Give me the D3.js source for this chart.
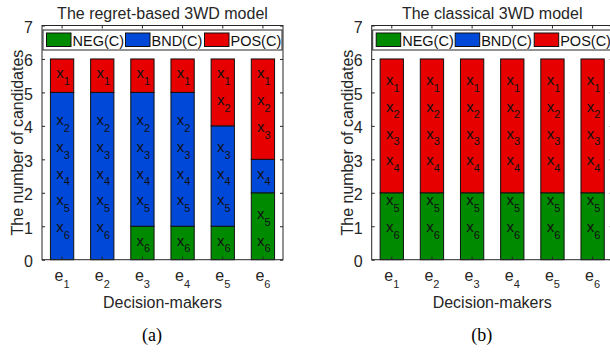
<!DOCTYPE html>
<html><head><meta charset="utf-8">
<script src="https://cdn.jsdelivr.net/npm/d3@7"></script>
<style>body{margin:0;background:#fff} svg{display:block} text{font-family:"Liberation Sans",Arial,Helvetica,sans-serif;fill:#262626}</style>
</head><body><svg id="c" width="610" height="354"></svg>
<script>
// ---------- data ----------
const decisionMakers = ["1","2","3","4","5","6"];   // e_1 ... e_6
const candidates = ["1","2","3","4","5","6"];       // x_1 ... x_6
const seriesKeys = ["NEG","BND","POS"];
const seriesNames = ["NEG(C)","BND(C)","POS(C)"];
const seriesColors = ["#008a00","#0049d8","#e60000"];
const yTicks = [0,1,2,3,4,5,6,7];
const titles = ["The regret-based 3WD model","The classical 3WD model"];
const panelTags = ["(a)","(b)"];
const yLabel = "The number of candidates";
const xLabel = "Decision-makers";

// (a) regret-based model
const negA = [0,0,1,1,1,2];
const bndA = [5,5,4,4,3,1];
const posA = [1,1,1,1,2,3];
// y position (data units) of labels x_1..x_6 for each decision-maker
const labelYA = [
  [5.5,4.1,3.3,2.5,1.7,0.9],
  [5.5,4.1,3.3,2.5,1.7,0.9],
  [5.5,4.1,3.3,2.5,1.7,0.5],
  [5.5,4.1,3.3,2.5,1.7,0.5],
  [5.5,4.7,3.3,2.5,1.7,0.5],
  [5.5,4.7,3.9,2.5,1.3,0.5]
];
// (b) classical model
const negB = [2,2,2,2,2,2];
const bndB = [0,0,0,0,0,0];
const posB = [4,4,4,4,4,4];
const labelYB = [
  [5.3,4.5,3.7,2.9,1.7,0.9],
  [5.3,4.5,3.7,2.9,1.7,0.9],
  [5.3,4.5,3.7,2.9,1.7,0.9],
  [5.3,4.5,3.7,2.9,1.7,0.9],
  [5.3,4.5,3.7,2.9,1.7,0.9],
  [5.3,4.5,3.7,2.9,1.7,0.9]
];

// ---------- drawing ----------
const svg = d3.select("#c");

function panel(opt){
  const {x0,x1,y0,y1,neg,bnd,pos,labelY,title,tag,tagX} = opt;
  const g = svg.append("g");
  const rows = decisionMakers.map((d,i)=>({dm:d, NEG:neg[i], BND:bnd[i], POS:pos[i]}));
  const x = d3.scaleBand().domain(decisionMakers).range([x0,x1]).paddingInner(0.42).paddingOuter(0.21);
  const y = d3.scaleLinear().domain([0,7]).range([y0,y1]);
  const stack = d3.stack().keys(seriesKeys)(rows);

  // bars
  stack.forEach((s,si)=>{
    g.append("g").selectAll("rect").data(s).join("rect")
      .attr("x", d=>x(d.data.dm)).attr("width", x.bandwidth())
      .attr("y", d=>y(d[1])).attr("height", d=>y(d[0])-y(d[1]))
      .attr("fill", seriesColors[si]).attr("stroke","#111").attr("stroke-width",1)
      .style("display", d=>d[1]-d[0]>0?null:"none");
  });

  // candidate labels
  decisionMakers.forEach((dm,i)=>{
    candidates.forEach((c,j)=>{
      const t = g.append("text")
        .attr("x", x(dm)+x.bandwidth()/2+1)
        .attr("y", y(labelY[i][j])+2.6)
        .attr("text-anchor","middle")
        .style("font-size","15px").style("fill","#111");
      t.append("tspan").text("x");
      t.append("tspan").attr("dy",6.7).style("font-size","11px").text(c);
    });
  });

  // axes box
  const ax = g.append("g").attr("stroke","#262626").attr("fill","none").attr("stroke-width",1);
  ax.append("rect").attr("x",x0).attr("y",y1).attr("width",x1-x0).attr("height",y0-y1);

  const yAxisL = d3.axisLeft(y).tickValues(yTicks).tickSize(-3).tickPadding(9).tickFormat(d3.format("d"));
  const gyl = g.append("g").attr("transform",`translate(${x0},0)`).call(yAxisL);
  gyl.select(".domain").remove();
  gyl.selectAll("line").attr("stroke","#262626");
  gyl.selectAll("text").style("font-size","16px").attr("dy",null).attr("y",7).style("fill","#262626");
  const gyr = g.append("g").attr("transform",`translate(${x1},0)`).call(d3.axisRight(y).tickValues(yTicks).tickSize(-3).tickFormat(""));
  gyr.select(".domain").remove();
  gyr.selectAll("line").attr("stroke","#262626");

  const gxb = g.append("g").attr("transform",`translate(0,${y0})`).call(d3.axisBottom(x).tickSize(-3).tickFormat(""));
  gxb.select(".domain").remove();
  gxb.selectAll("line").attr("stroke","#262626");
  const gxt = g.append("g").attr("transform",`translate(0,${y1})`).call(d3.axisTop(x).tickSize(-3).tickFormat(""));
  gxt.select(".domain").remove();
  gxt.selectAll("line").attr("stroke","#262626");

  // x tick labels e_i
  decisionMakers.forEach(dm=>{
    const t = g.append("text").attr("x", x(dm)+x.bandwidth()/2).attr("y", y0+21.3)
      .attr("text-anchor","middle").style("font-size","16px");
    t.append("tspan").text("e");
    t.append("tspan").attr("dy",7.2).style("font-size","11px").text(dm);
  });

  // legend
  const lg = g.append("g");
  lg.append("rect").attr("x",x0+1).attr("y",30).attr("width",x1-x0-2).attr("height",20)
    .attr("fill","#fff").attr("stroke","#262626").attr("stroke-width",1);
  seriesNames.forEach((n,k)=>{
    const sx = x0+4.5+k*79;
    lg.append("rect").attr("x",sx).attr("y",33).attr("width",24.5).attr("height",13.5)
      .attr("fill",seriesColors[k]).attr("stroke","#111").attr("stroke-width",1);
    lg.append("text").attr("x",sx+26).attr("y",45.5).style("font-size","14.5px").style("fill","#111").text(n);
  });

  // title, labels
  g.append("text").attr("x",(x0+x1)/2).attr("y",19.3).attr("text-anchor","middle").style("font-size","16px").text(title);
  g.append("text").attr("x",(x0+x1)/2).attr("y",308).attr("text-anchor","middle").style("font-size","16px").text(xLabel);
  g.append("text").attr("transform",`translate(${x0-19},${(y0+y1)/2}) rotate(-90)`)
    .attr("text-anchor","middle").style("font-size","16px").text(yLabel);
  g.append("text").attr("x",tagX).attr("y",341).attr("text-anchor","middle")
    .style("font-family","'Liberation Serif','Times New Roman',serif").style("font-size","18px").style("fill","#000").text(tag);
}

panel({x0:42, x1:283, y0:259.7, y1:25.5, neg:negA, bnd:bndA, pos:posA, labelY:labelYA, title:titles[0], tag:panelTags[0], tagX:152});
panel({x0:371.7, x1:612.7, y0:259.7, y1:25.5, neg:negB, bnd:bndB, pos:posB, labelY:labelYB, title:titles[1], tag:panelTags[1], tagX:481.7});
</script>
</body></html>
